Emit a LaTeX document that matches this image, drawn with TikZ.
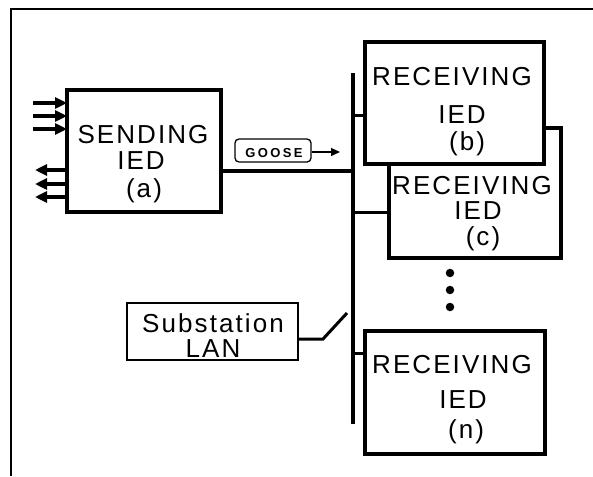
\documentclass[tikz,border=0pt]{standalone}
\usepackage{fontspec}
\setmainfont{Liberation Sans}
\newfontfamily\labelfont[LetterSpace=8]{Liberation Sans}
\newfontfamily\tagfont[LetterSpace=18]{Liberation Sans}
\usetikzlibrary{arrows.meta}
\begin{document}
\begin{tikzpicture}[x=1pt,y=-1pt,
  iedbox/.style={draw,line width=4pt,fill=white,inner sep=0pt,outer sep=0pt},
  lanbox/.style={draw,line width=2.2pt,fill=white,inner sep=0pt,outer sep=0pt},
  txt/.style={inner sep=0pt,anchor=base,font=\labelfont\fontsize{26}{30}\selectfont},
  sig/.style={line width=3.3pt,-{Triangle[length=12pt,width=11pt]}},
  bus/.style={line width=4.5pt},
  tap/.style={line width=3pt},
  dot/.style={circle,fill,inner sep=0pt,minimum size=8.5pt}]
\useasboundingbox (0,0) rectangle (593,476);
% outer frame
\draw[line width=2.2pt] (11,476) -- (11,9) -- (593,9);

% sending IED
\node[iedbox,minimum width=154pt,minimum height=122pt] (a) at (144,151) {};
\node[txt] (aT1) at (143,143) {SENDING};
\node[txt] (aT2) at (141,169) {IED};
\node[txt] (aT3) at (144,197) {(a)};

% binary inputs and outputs of the sending IED
\coordinate (in1) at (33,103);
\coordinate (in2) at (33,116);
\coordinate (in3) at (33,129);
\draw[sig] (in1) -- (in1 -| a.west);
\draw[sig] (in2) -- (in2 -| a.west);
\draw[sig] (in3) -- (in3 -| a.west);
\coordinate (out1) at (35,170);
\coordinate (out2) at (35,184);
\coordinate (out3) at (35,197);
\draw[sig] (out1 -| a.west) -- (out1);
\draw[sig] (out2 -| a.west) -- (out2);
\draw[sig] (out3 -| a.west) -- (out3);

% station bus
\coordinate (bustop) at (353,73);
\coordinate (busbot) at (353,424);
\draw[bus] (bustop) -- (busbot);
\coordinate (aout) at (221,171);
\draw[line width=3.3pt] (aout) -- (aout -| bustop);

% GOOSE message
\node[draw,line width=1.3pt,rounded corners=4pt,minimum width=76pt,minimum height=23pt,inner sep=0pt] (goose) at (273,150.5) {};
\node[inner sep=0pt,anchor=base,font=\tagfont\bfseries\fontsize{13}{15}\selectfont] (gooseT) at (274,157) {GOOSE};
\coordinate (gtip) at (340,152);
\draw[line width=1.3pt,-{Triangle[length=9pt,width=8pt]}] (goose.east |- gtip) -- (gtip);

% receiving IED (c), partly hidden behind (b)
\node[iedbox,minimum width=172pt,minimum height=130pt] (c) at (475,193) {};
\node[txt] (cT1) at (472,194) {RECEIVING};
\node[txt] (cT2) at (478,219) {IED};
\node[txt] (cT3) at (483,245) {(c)};

% receiving IED (b)
\node[iedbox,minimum width=179pt,minimum height=122pt] (b) at (454.5,103) {};
\node[txt] (bT1) at (452,85) {RECEIVING};
\node[txt] (bT2) at (462,123) {IED};
\node[txt] (bT3) at (467,150) {(b)};

% receiving IED (n)
\node[iedbox,minimum width=180pt,minimum height=123pt] (n) at (455,392.5) {};
\node[txt] (nT1) at (452,373) {RECEIVING};
\node[txt] (nT2) at (463,408) {IED};
\node[txt] (nT3) at (466,438) {(n)};

% taps from the bus
\coordinate (tb) at (353,115);
\coordinate (tc) at (353,212);
\coordinate (tn) at (353,353);
\draw[tap] (tb) -- (tb -| b.west);
\draw[tap] (tc) -- (tc -| c.west);
\draw[tap] (tn) -- (tn -| n.west);

% continuation dots
\node[dot] (d1) at (450,273) {};
\node[dot] (d2) at (450,290) {};
\node[dot] (d3) at (450,307) {};

% substation LAN with switch
\node[lanbox,minimum width=171pt,minimum height=57pt] (lan) at (212.5,331.5) {};
\node[txt] (lanT1) at (213,332) {Substation};
\node[txt] (lanT2) at (213,357) {LAN};
\coordinate (sw1) at (323,339);
\coordinate (sw2) at (347,313);
\draw[tap] (lan.east |- sw1) -- (sw1) -- (sw2);
\end{tikzpicture}
\end{document}
